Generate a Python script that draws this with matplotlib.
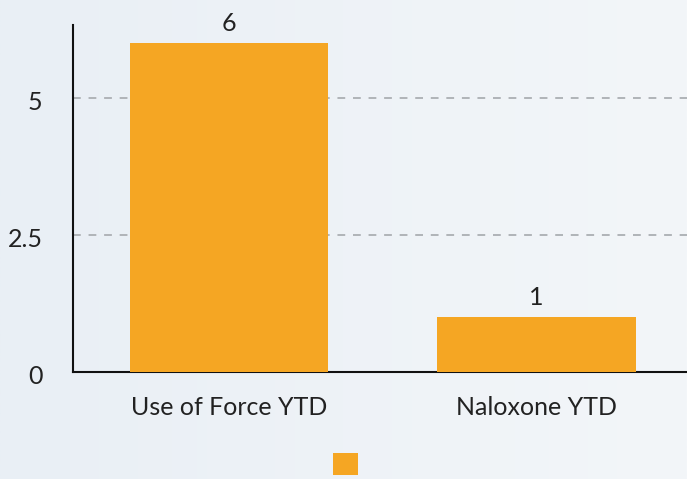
import matplotlib
matplotlib.use("Agg")
import matplotlib.pyplot as plt
import matplotlib.transforms as mtransforms
from matplotlib.patches import Patch
import numpy as np

categories = ["Use of Force YTD", "Naloxone YTD"]
values = [6, 1]
yticks = [0, 2.5, 5]
ytick_labels = ["0", "2.5", "5"]

plt.rcParams['font.family'] = ['Lato', 'DejaVu Sans']
BAR = "#F5A623"
BG = "#eef2f6"
FS = 18

fig = plt.figure(figsize=(6.87, 4.79), dpi=100, facecolor=BG)
# subtle background gradient
bgax = fig.add_axes([0, 0, 1, 1], zorder=-10)
grad = np.linspace(0, 1, 256).reshape(1, -1)
bgax.imshow(grad, aspect='auto', cmap=matplotlib.colors.LinearSegmentedColormap.from_list('g', ["#e9eff5", "#f3f6f9"]), extent=[0, 1, 0, 1])
bgax.axis('off')

ax = fig.add_axes([73/687, 1-372/479, 1-73/687, (372-25)/479])
ax.patch.set_alpha(0)
x = np.arange(len(categories))
bars = ax.bar(x, values, width=0.645, color=BAR, zorder=3)
for xi, v in zip(x, values):
    ax.annotate(str(v), (xi, v), xytext=(0, 6), textcoords='offset points',
                ha='center', va='bottom', fontsize=FS, color='#222222')
ax.set_xlim(-0.508, 1.49)
ax.set_ylim(0, 6.33)
ax.set_yticks(yticks)
ax.set_yticklabels(ytick_labels)
ax.set_xticks(x)
ax.set_xticklabels(categories)
ax.tick_params(axis='both', length=0, labelsize=FS, colors='#222222')
ax.tick_params(axis='y', pad=22)
ax.tick_params(axis='x', pad=17)
offset = mtransforms.ScaledTranslation(0, -3/100, fig.dpi_scale_trans)
for lbl in ax.get_yticklabels():
    lbl.set_transform(lbl.get_transform() + offset)
for yv in [2.5, 5]:
    ax.axhline(yv, color='#b0b4b8', linestyle=(0, (4, 4)), linewidth=1.4, zorder=1)
for s in ['top', 'right']:
    ax.spines[s].set_visible(False)
ax.spines['left'].set_color('#111111')
ax.spines['bottom'].set_color('#111111')
ax.spines['left'].set_linewidth(1.5)
ax.spines['bottom'].set_linewidth(1.5)

fig.legend(handles=[Patch(facecolor=BAR, edgecolor='none')], labels=[''],
           loc='center', bbox_to_anchor=(345.5/687, 1-465/479), frameon=False,
           handlelength=0.98, handleheight=0.98, handletextpad=0, fontsize=FS)

fig.savefig("out.png", dpi=100, facecolor=BG)
